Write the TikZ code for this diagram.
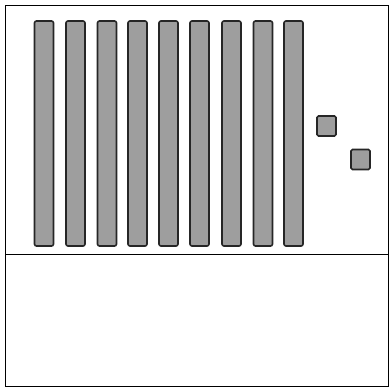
\documentclass[tikz,border=0pt]{standalone}
\begin{document}
\begin{tikzpicture}[x=1pt,y=-1pt,
  bar/.style={draw=black!85,line width=1.6pt,fill=black!38,rounded corners=2pt,inner sep=0pt,minimum width=19pt,minimum height=225pt},
  sq/.style={draw=black!85,line width=1.6pt,fill=black!38,rounded corners=1.5pt,inner sep=0pt,minimum width=19pt,minimum height=20pt},
  frame/.style={draw=black,line width=1.5pt}]
\useasboundingbox (0,0) rectangle (391,389);
\fill[white] (0,0) rectangle (391,389);
\node[frame,minimum width=383pt,minimum height=381pt,inner sep=0pt] (outer) at (197,196) {};
\coordinate (dl) at (5.5,254.5);
\coordinate (dr) at (388.5,254.5);
\draw[frame] (dl) -- (dr);
\foreach \i/\x in {1/44,2/75.5,3/107,4/137.5,5/168.5,6/199.5,7/231.5,8/263,9/293.5}{
  \node[bar] (b\i) at (\x,133.5) {};
}
\node[sq] (s1) at (326.5,126) {};
\node[sq] (s2) at (360.5,159.5) {};
\end{tikzpicture}
\end{document}
